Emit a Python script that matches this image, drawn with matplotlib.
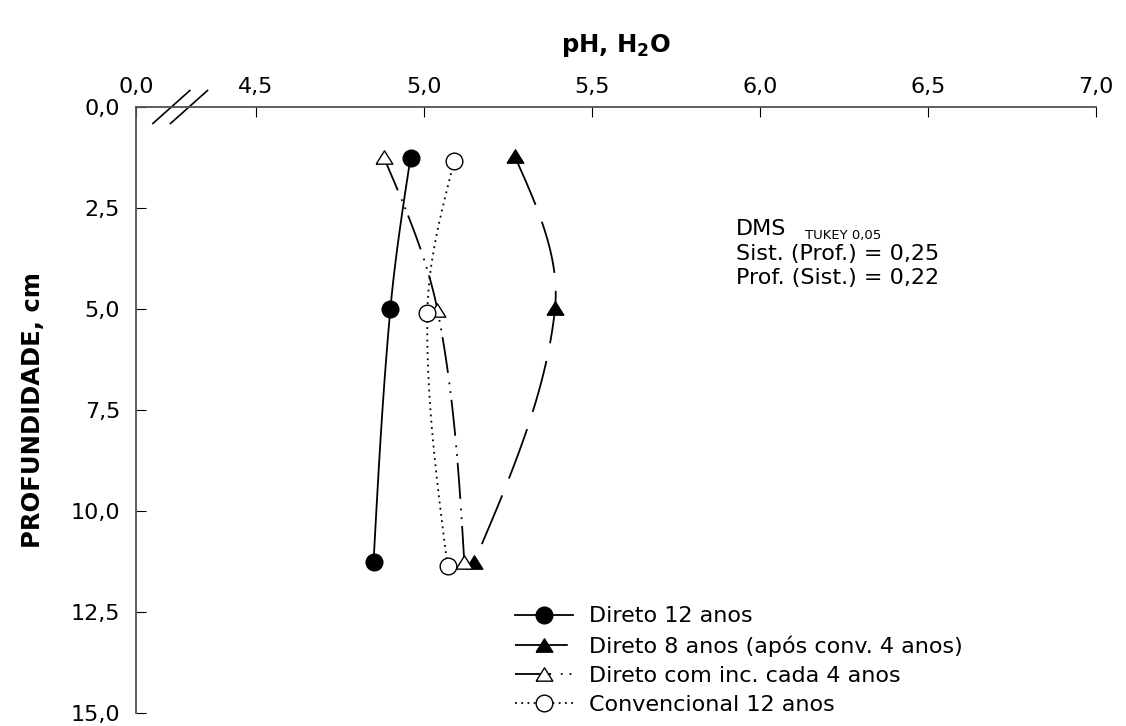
import numpy as np
import matplotlib
matplotlib.use("Agg")
import matplotlib.pyplot as plt
from matplotlib.lines import Line2D

plt.rcParams['font.family'] = ['DejaVu Sans']
plt.rcParams['mathtext.fontset'] = 'custom'
plt.rcParams['mathtext.rm'] = 'DejaVu Sans'
plt.rcParams['mathtext.bf'] = 'DejaVu Sans:bold'
plt.rcParams['lines.scale_dashes'] = False

# ---------------- data ----------------
depth_sd12 = [1.25, 5.0, 11.25]
ph_sd12 = [4.96, 4.90, 4.85]

depth_sd8 = [1.22, 4.98, 11.25]
ph_sd8 = [5.27, 5.39, 5.15]

depth_inc = [1.24, 5.02, 11.27]
ph_inc = [4.88, 5.04, 5.12]

depth_conv = [1.34, 5.09, 11.35]
ph_conv = [5.09, 5.01, 5.07]

labels = ["Direto 12 anos", "Direto 8 anos (após conv. 4 anos)",
          "Direto com inc. cada 4 anos", "Convencional 12 anos"]

x_ticks = [4.5, 5.0, 5.5, 6.0, 6.5, 7.0]
x_ticklabels = ["4,5", "5,0", "5,5", "6,0", "6,5", "7,0"]
y_ticks = [0, 2.5, 5.0, 7.5, 10.0, 12.5, 15.0]
y_ticklabels = ["0,0", "2,5", "5,0", "7,5", "10,0", "12,5", "15,0"]
x_min = 4.1429  # axis start shown as "0,0" after the break

# ---------------- helpers ----------------
def smooth_curve(xs, ys, n=60):
    """Cubic Hermite curve x(y): Catmull-Rom interior slopes, natural ends."""
    xs = np.asarray(xs, float); ys = np.asarray(ys, float)
    k = len(xs)
    d = np.diff(xs) / np.diff(ys)
    m = np.zeros(k)
    for i in range(1, k - 1):
        m[i] = (xs[i + 1] - xs[i - 1]) / (ys[i + 1] - ys[i - 1])
    m[0] = (3 * d[0] - m[1]) / 2
    m[-1] = (3 * d[-1] - m[-2]) / 2
    out_x, out_y = [], []
    for i in range(k - 1):
        h = ys[i + 1] - ys[i]
        s = np.linspace(0, 1, n)
        h00 = 2 * s**3 - 3 * s**2 + 1
        h10 = s**3 - 2 * s**2 + s
        h01 = -2 * s**3 + 3 * s**2
        h11 = s**3 - s**2
        out_x.append(h00 * xs[i] + h10 * h * m[i] + h01 * xs[i + 1] + h11 * h * m[i + 1])
        out_y.append(ys[i] + s * h)
    return np.concatenate(out_x), np.concatenate(out_y)

tri = [(-1, -0.8), (1, -0.8), (0, 0.8), (-1, -0.8)]

series = [
    dict(x=ph_sd12, y=depth_sd12, ls='-', marker='o', mfc='black'),
    dict(x=ph_sd8, y=depth_sd8, ls=(0, (38, 13)), marker=tri, mfc='black'),
    dict(x=ph_inc, y=depth_inc, ls=(0, (26, 7, 1.3, 5, 1.3, 5)), marker=tri, mfc='white'),
    dict(x=ph_conv, y=depth_conv, ls=(0, (1.3, 3.2)), marker='o', mfc='white'),
]

FS = 16

# ---------------- figure ----------------
fig = plt.figure(figsize=(11.26, 7.26), dpi=100)
ax = fig.add_axes([136 / 1126, 13 / 726, 960 / 1126, 606 / 726])

handles = []
for s, lab in zip(series, labels):
    cx, cy = smooth_curve(s['x'], s['y'])
    ax.plot(cx, cy, color='black', lw=1.3, ls=s['ls'], dash_capstyle='butt', clip_on=False)
    ax.plot(s['x'], s['y'], ls='none', marker=s['marker'], ms=12,
            mfc=s['mfc'], mec='black', mew=1.0, clip_on=False, zorder=3)
    handles.append(Line2D([], [], color='black', lw=1.3, ls=s['ls'], marker=s['marker'],
                          ms=12, mfc=s['mfc'], mec='black', mew=1.0))

ax.set_xlim(x_min, 7.0)
ax.set_ylim(15, 0)
ax.xaxis.tick_top()
ax.xaxis.set_label_position('top')
ax.set_xticks([x_min] + x_ticks)
ax.set_xticklabels(["0,0"] + x_ticklabels)
ax.set_yticks(y_ticks)
ax.set_yticklabels(y_ticklabels)
ax.tick_params(axis='x', direction='in', length=7, width=0.8, pad=7, labelsize=FS)
ax.tick_params(axis='y', direction='in', length=7, width=0.8, pad=11.5, labelsize=FS)
for side in ['right', 'bottom']:
    ax.spines[side].set_visible(False)
for side in ['top', 'left']:
    ax.spines[side].set_color('#505050')
    ax.spines[side].set_linewidth(1.3)

ax.set_xlabel('pH, H$_\\mathbf{2}$O', fontsize=17.5, fontweight='bold', labelpad=18)
ax.set_ylabel('PROFUNDIDADE, cm', fontsize=17.5, fontweight='bold', labelpad=18)

# axis break marks
for cxf in [0.0368, 0.0552]:
    dx, dy = 18.5 / 960, 16.5 / 606
    ax.plot([cxf - dx, cxf + dx], [1 - dy, 1 + dy], color='black', lw=1.2,
            transform=ax.transAxes, clip_on=False)

# DMS annotation
ax.text(0.625, 0.7888, 'DMS', fontsize=FS, va='baseline', transform=ax.transAxes)
ax.text(0.6965, 0.7822, 'TUKEY 0,05', fontsize=9.5, va='baseline', transform=ax.transAxes)
ax.text(0.625, 0.7475, 'Sist. (Prof.) = 0,25', fontsize=FS, va='baseline', transform=ax.transAxes)
ax.text(0.625, 0.7080, 'Prof. (Sist.) = 0,22', fontsize=FS, va='baseline', transform=ax.transAxes)

ax.legend(handles, labels, loc='upper left', bbox_to_anchor=(0.3948, 0.176),
          frameon=False, fontsize=FS, handlelength=2.6, handletextpad=0.75,
          labelspacing=0.41, borderpad=0, borderaxespad=0, numpoints=1)

fig.savefig('out.png', dpi=100)
